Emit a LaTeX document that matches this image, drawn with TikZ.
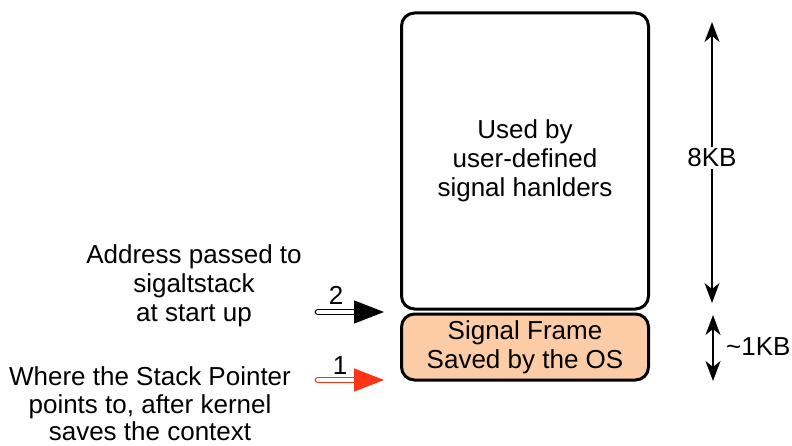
\documentclass[tikz,border=0pt]{standalone}
\usepackage{fontspec}
\setmainfont{Liberation Sans}
\usetikzlibrary{positioning,arrows.meta}
\definecolor{framepeach}{RGB}{252,204,166}
\definecolor{ptrred}{RGB}{250,52,22}

\begin{document}
\begin{tikzpicture}[x=1pt,y=-1pt,
	every node/.style={font=\fontsize{26}{29}\selectfont, align=center},
	region/.style={draw, line width=3pt, rounded corners=13pt, minimum width=247pt, inner sep=0pt},
	size/.style={line width=1.3pt, {Stealth[length=20pt,width=15pt,inset=6pt]}-{Stealth[length=20pt,width=15pt,inset=6pt]}},
	pointer/.style={line width=1.4pt, double=white, double distance=4pt, line cap=round,
		-{Triangle[length=30pt,width=23pt]}}]
	\useasboundingbox (0,0) rectangle (792,446);
	
	% the alternate stack
	\node[region, minimum height=296pt] (handlers) at (525,161) {Used by\\user-defined\\signal hanlders};
	\node[region, fill=framepeach, minimum height=66pt] (frame) at (525,347) {Signal Frame\\Saved by the OS};
	
	% sizes
	\coordinate (top8) at (712,22);
	\coordinate (bot8) at (712,303);
	\draw[size] (top8) -- (bot8);
	\node[fill=white, inner sep=2pt] (eight) at (712,158) {8KB};
	
	\coordinate (top1) at (713,315);
	\coordinate (bot1) at (713,381);
	\draw[size] (top1) -- (bot1);
	\node[anchor=west, inner sep=0pt] (one) at (726,347) {\textasciitilde1KB};
	
	% pointers
	\node (addr) at (194,286) {Address passed to\\sigaltstack\\at start up};
	\coordinate (p2s) at (318,312);
	\coordinate (p2e) at (384,312);
	\draw[pointer] (p2s) -- (p2e);
	\node (two) at (336,295) {2};
	
	\node[inner sep=0pt, font=\fontsize{26}{27.5}\selectfont] (where) at (150,404) {Where the Stack Pointer\\points to, after kernel\\saves the context};
	\coordinate (p1s) at (318,380);
	\coordinate (p1e) at (384,380);
	\draw[pointer, ptrred] (p1s) -- (p1e);
	\node (first) at (340,366) {1};
\end{tikzpicture}
\end{document}
